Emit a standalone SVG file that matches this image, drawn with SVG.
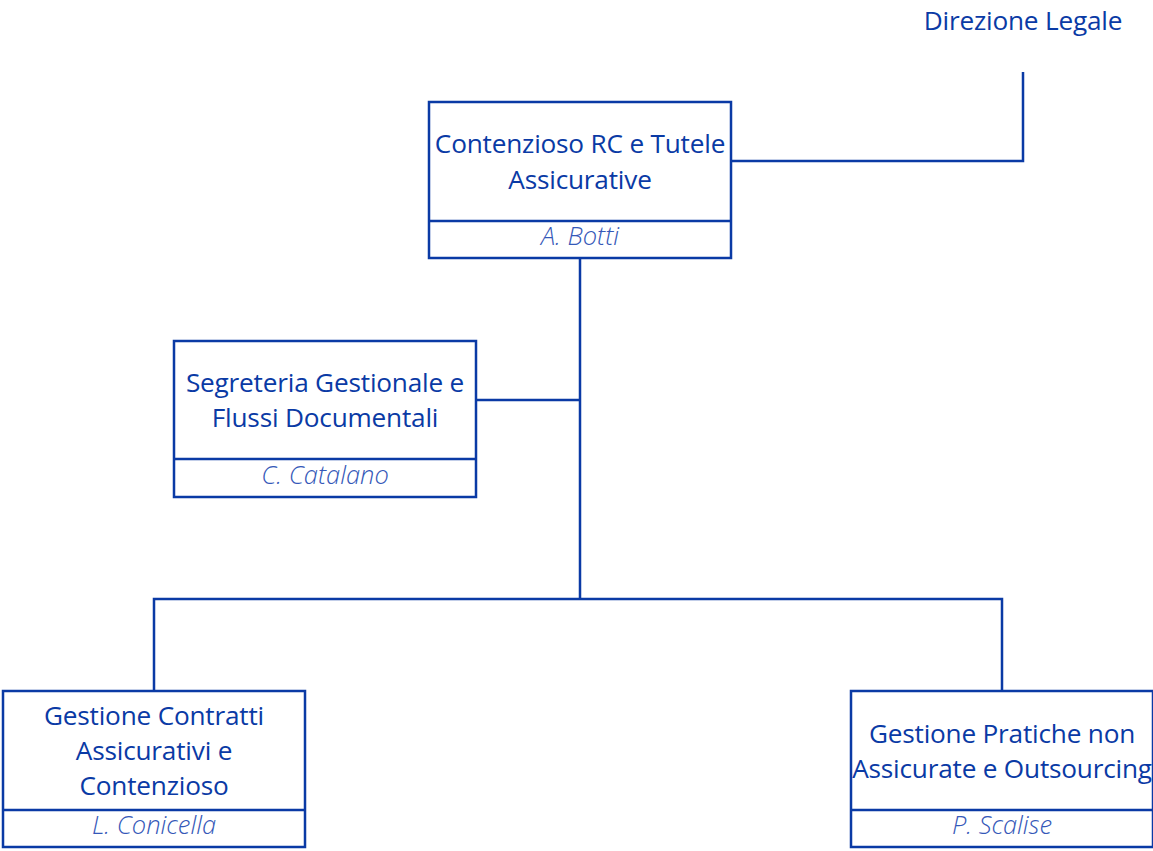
<svg xmlns="http://www.w3.org/2000/svg" width="1153" height="851" viewBox="0 0 1153 851">
<style>
.box{fill:#fff;stroke:#0a3aa5;stroke-width:2.5}
.div{stroke:#0a3aa5;stroke-width:2.5}
.t{font-family:"Open Sans","Noto Sans","DejaVu Sans",sans-serif;font-size:26.2px;fill:#0a3aa5;text-anchor:middle;letter-spacing:-0.2px}
.n{font-family:"Open Sans","Noto Sans","DejaVu Sans",sans-serif;font-size:25.5px;font-style:italic;font-weight:300;fill:#3558b8;text-anchor:middle}
.c{fill:none;stroke:#0a3aa5;stroke-width:2.5}
</style>
<rect width="1153" height="851" fill="#fff"/>
<g id="connectors">
<polyline class="c" points="731,161 1023,161 1023,72"/>
<line class="c" x1="580" y1="258" x2="580" y2="599"/>
<line class="c" x1="476" y1="400" x2="580" y2="400"/>
<polyline class="c" points="154,691 154,599 1002,599 1002,691"/>
</g>
<g id="direzione">
<text class="t" x="1023" y="30">Direzione Legale</text>
</g>
<g id="contenzioso">
<rect class="box" x="429" y="102" width="302" height="156"/>
<line class="div" x1="429" y1="221" x2="731" y2="221"/>
<text class="t" x="580" y="153">Contenzioso RC e Tutele</text>
<text class="t" x="580" y="189">Assicurative</text>
<text class="n" x="580" y="245">A. Botti</text>
</g>
<g id="segreteria">
<rect class="box" x="174" y="341" width="302" height="156"/>
<line class="div" x1="174" y1="459" x2="476" y2="459"/>
<text class="t" x="325" y="392">Segreteria Gestionale e</text>
<text class="t" x="325" y="427">Flussi Documentali</text>
<text class="n" x="325" y="484">C. Catalano</text>
</g>
<g id="contratti">
<rect class="box" x="3" y="691" width="302" height="156"/>
<line class="div" x1="3" y1="810" x2="305" y2="810"/>
<text class="t" x="154" y="725">Gestione Contratti</text>
<text class="t" x="154" y="760">Assicurativi e</text>
<text class="t" x="154" y="795">Contenzioso</text>
<text class="n" x="154" y="834">L. Conicella</text>
</g>
<g id="pratiche">
<rect class="box" x="851" y="691" width="302" height="156"/>
<line class="div" x1="851" y1="810" x2="1153" y2="810"/>
<text class="t" x="1002" y="743">Gestione Pratiche non</text>
<text class="t" x="1002" y="778">Assicurate e Outsourcing</text>
<text class="n" x="1002" y="834">P. Scalise</text>
</g>
</svg>
